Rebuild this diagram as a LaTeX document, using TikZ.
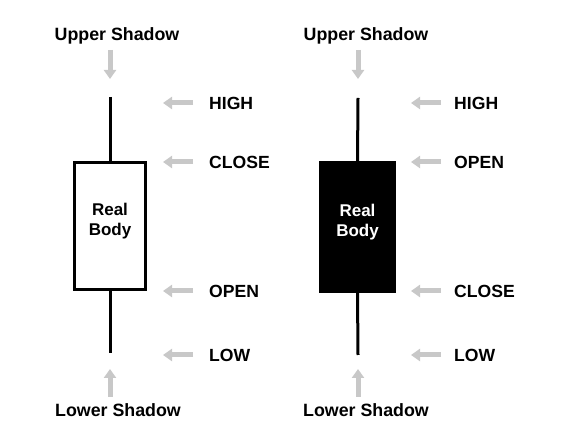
\documentclass[tikz,border=0pt]{standalone}
\usepackage{fontspec}
\setmainfont{Liberation Sans}
\usetikzlibrary{arrows.meta}
\definecolor{arrgray}{HTML}{C8C8C8}
\tikzset{
  lbl/.style={font=\bfseries\fontsize{17.6}{19}\selectfont, inner sep=0pt, anchor=west, text=black},
  captxt/.style={font=\bfseries\fontsize{17.8}{19}\selectfont, inner sep=0pt, text=black},
  garrow/.style={draw=arrgray, line width=5pt, -{Triangle[width=12pt,length=9pt]}, arrgray},
  wick/.style={draw=black, line width=3pt},
  bodywhite/.style={draw=black, line width=3pt, fill=white, minimum width=71pt, minimum height=127pt, inner sep=0pt},
  bodyblack/.style={draw=black, line width=1pt, fill=black, minimum width=76pt, minimum height=131pt, inner sep=0pt},
  bodytxt/.style={inner sep=0pt, align=center, font=\bfseries\fontsize{17}{19.5}\selectfont}
}
\begin{document}
\begin{tikzpicture}[x=1pt,y=1pt]
\useasboundingbox[fill=white] (0,0) rectangle (577,438);
% ---------- left candle ----------
\node[bodywhite] (lbody) at (110,212) {};
\node[bodytxt, text=black] (lbodyt) at (110,217) {Real\\Body};
\coordinate (lhi) at (110,341);
\coordinate (llo) at (110,85);
\draw[wick] (lhi) -- (lbody.north);
\draw[wick] (lbody.south) -- (llo);
\node[captxt] (lup) at (117,402) {Upper Shadow};
\node[captxt] (llow) at (118,28) {Lower Shadow};
\coordinate (lupA) at (110,388);
\coordinate (lupB) at (110,359);
\coordinate (llowA) at (110,41);
\coordinate (llowB) at (110,69);
\draw[garrow] (lupA) -- (lupB);
\draw[garrow] (llowA) -- (llowB);
% labels left
\node[lbl] (lHIGH) at (209,335) {HIGH};
\node[lbl] (lCLOSE) at (209,276) {CLOSE};
\node[lbl] (lOPEN) at (209,147) {OPEN};
\node[lbl] (lLOW) at (209,83) {LOW};
\coordinate (la1) at (193,335); \coordinate (lb1) at (163,335);
\coordinate (la2) at (193,276); \coordinate (lb2) at (163,276);
\coordinate (la3) at (193,147); \coordinate (lb3) at (163,147);
\coordinate (la4) at (193,83);  \coordinate (lb4) at (163,83);
\draw[garrow] (la1) -- (lb1);
\draw[garrow] (la2) -- (lb2);
\draw[garrow] (la3) -- (lb3);
\draw[garrow] (la4) -- (lb4);
% ---------- right candle ----------
\node[bodyblack] (rbody) at (357.5,211) {};
\node[bodytxt, text=white] (rbodyt) at (357.5,216) {Real\\Body};
\coordinate (rhi) at (358,340);
\coordinate (rlo) at (358,83);
\draw[wick] (rhi) -- (rbody.north);
\draw[wick] (rbody.south) -- (rlo);
\node[captxt] (rup) at (366,402) {Upper Shadow};
\node[captxt] (rlow) at (366,28) {Lower Shadow};
\coordinate (rupA) at (358,388);
\coordinate (rupB) at (358,359);
\coordinate (rlowA) at (358,41);
\coordinate (rlowB) at (358,69);
\draw[garrow] (rupA) -- (rupB);
\draw[garrow] (rlowA) -- (rlowB);
% labels right
\node[lbl] (rHIGH) at (454,335) {HIGH};
\node[lbl] (rOPEN) at (454,276) {OPEN};
\node[lbl] (rCLOSE) at (454,147) {CLOSE};
\node[lbl] (rLOW) at (454,83) {LOW};
\coordinate (ra1) at (441,335); \coordinate (rb1) at (411,335);
\coordinate (ra2) at (441,276); \coordinate (rb2) at (411,276);
\coordinate (ra3) at (441,147); \coordinate (rb3) at (411,147);
\coordinate (ra4) at (441,83);  \coordinate (rb4) at (411,83);
\draw[garrow] (ra1) -- (rb1);
\draw[garrow] (ra2) -- (rb2);
\draw[garrow] (ra3) -- (rb3);
\draw[garrow] (ra4) -- (rb4);
\end{tikzpicture}
\end{document}
